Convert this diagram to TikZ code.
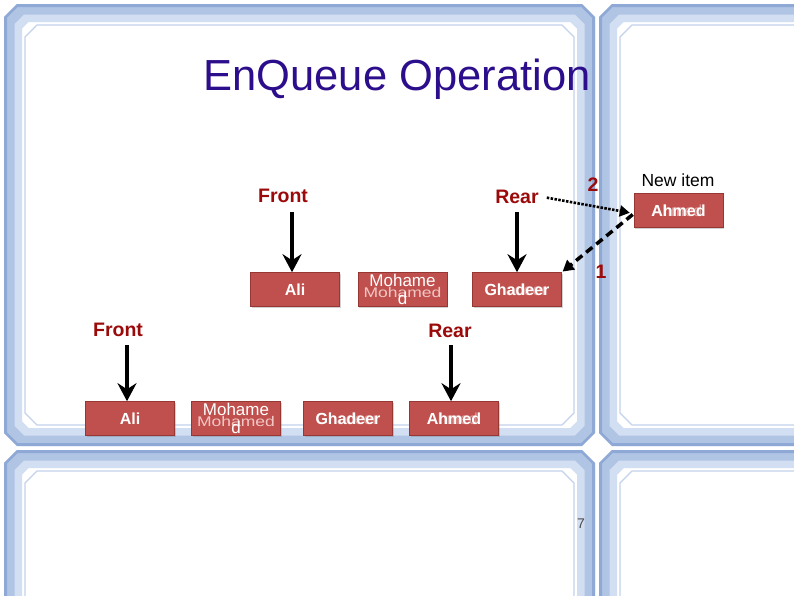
\documentclass[tikz,border=0pt]{standalone}
\usepackage{fontspec}
\setmainfont{Liberation Sans}
\usetikzlibrary{arrows.meta,calc,shadows}
\definecolor{titleblue}{RGB}{44,14,140}
\definecolor{lblred}{RGB}{155,10,10}
\definecolor{boxred}{RGB}{192,80,77}
\definecolor{boxedge}{RGB}{150,55,52}
\definecolor{ghostpink}{RGB}{242,200,198}
\definecolor{bandlight}{RGB}{210,222,241}
\definecolor{bandmid}{RGB}{176,196,228}
\definecolor{banddark}{RGB}{143,169,214}
\definecolor{bandline}{RGB}{196,210,235}

% one chamfered outline of a pane: x1,y1,x2,y2,inset,style
\newcommand\drawpaneline[6]{%
  \draw[#6] ({#1+#5+12},{#2+#5}) -- ({#3-#5-12},{#2+#5}) -- ({#3-#5},{#2+#5+12})
    -- ({#3-#5},{#4-#5-12}) -- ({#3-#5-12},{#4-#5}) -- ({#1+#5+12},{#4-#5})
    -- ({#1+#5},{#4-#5-12}) -- ({#1+#5},{#2+#5+12}) -- cycle;}
\newcommand\framepane[4]{%
  \drawpaneline{#1}{#2}{#3}{#4}{10}{draw=bandlight,line width=18pt}
  \drawpaneline{#1}{#2}{#3}{#4}{7}{draw=bandmid,line width=9pt}
  \drawpaneline{#1}{#2}{#3}{#4}{2.5}{draw=banddark,line width=3pt}
  \drawpaneline{#1}{#2}{#3}{#4}{22}{draw=bandline,line width=1.2pt}}

\tikzset{
  qbox/.style={rectangle, fill=boxred, draw=boxedge, line width=0.6pt,
    minimum width=89pt, minimum height=34pt, inner sep=0pt,
    drop shadow={shadow xshift=1.2pt, shadow yshift=-1.8pt, opacity=0.35},
    text=white, font=\fontsize{16}{17}\selectfont\bfseries},
  boxtxt/.style={text=white, inner sep=0pt, font=\fontsize{17}{18}\selectfont, align=center},
  boldtxt/.style={text=white, inner sep=0pt, font=\fontsize{16}{17}\selectfont\bfseries},
  ghost/.style={text=ghostpink, inner sep=0pt, opacity=0.6, font=\fontsize{16}{17}\selectfont},
  lbl/.style={text=lblred, font=\fontsize{19.5}{20}\selectfont\bfseries, inner sep=1pt, anchor=base},
  bigarrow/.style={line width=4pt, -{Stealth[length=18pt,width=19pt,inset=6pt]}},
  dotarrow/.style={line width=2.6pt, dash pattern=on 2.5pt off 1.4pt,
    -{Triangle[length=10pt,width=11pt]}},
  dasharrow/.style={line width=3.5pt, dash pattern=on 8pt off 5pt,
    -{Triangle[length=11pt,width=12pt]}},
}

\begin{document}
\begin{tikzpicture}[x=1pt,y=-1pt]
\useasboundingbox (0,0) rectangle (794,595);
\clip (0,0) rectangle (794,595);
\fill[white] (0,0) rectangle (794,595);

% window panes
\framepane{3}{3}{596}{447}
\framepane{598}{3}{830}{447}
\framepane{3}{449}{596}{630}
\framepane{598}{449}{830}{630}

% title
\node[anchor=base, text=titleblue, font=\fontsize{43.5}{45}\selectfont, inner sep=0pt] (title) at (397,90) {EnQueue Operation};

% ---------- upper queue ----------
\node[lbl] (f1) at (283,202) {Front};
\node[lbl] (r1) at (517,203) {Rear};
\node[qbox] (ali1) at (295,289.5) {Ali};
\node[qbox] (moh1) at (402.5,289.5) {};
\node[ghost, opacity=1, font=\fontsize{14}{15}\selectfont, xscale=1.25] (moh1g) at ([yshift=-3pt]moh1.center) {Mohamed};
\node[boxtxt] (moh1t) at (moh1.center) {Mohame\\d};
\node[qbox] (gh1) at (517,289.5) {};
\node[ghost] (gh1g) at ([xshift=-1.3pt]gh1.center) {Ghadeer};
\node[boldtxt] (gh1t) at (gh1.center) {Ghadeer};

\node[anchor=base, font=\fontsize{17.5}{18}\selectfont, inner sep=0pt] (newlbl) at (678,186) {New item};
\node[qbox] (new) at (678.5,210.5) {};
\node[ghost] (newg) at ([xshift=-1.5pt]new.center) {Ahmed};
\node[boldtxt] (newt) at (new.center) {Ahmed};

\node[lbl] (two) at (593,191) {2};
\node[lbl] (one) at (601,278) {1};

\draw[bigarrow, shorten <=9pt] ([xshift=-3pt]ali1.north |- f1.south) -- ([xshift=-3pt]ali1.north);
\draw[bigarrow, shorten <=8pt] (gh1.north |- r1.south) -- (gh1.north);
\draw[dotarrow, shorten <=7pt, shorten >=4pt] (r1.east) -- ([yshift=-3pt]new.west);
\draw[dasharrow, shorten >=1pt] ([yshift=-4pt,xshift=-1pt]new.west) -- (gh1.north east);

% ---------- lower queue ----------
\node[lbl] (f2) at (118,336) {Front};
\node[lbl] (r2) at (450,337) {Rear};
\node[qbox] (ali2) at (130,418.5) {Ali};
\node[qbox] (moh2) at (236,418.5) {};
\node[ghost, opacity=1, font=\fontsize{14}{15}\selectfont, xscale=1.25] (moh2g) at ([yshift=-3pt]moh2.center) {Mohamed};
\node[boxtxt] (moh2t) at (moh2.center) {Mohame\\d};
\node[qbox] (gh2) at (348,418.5) {};
\node[ghost] (gh2g) at ([xshift=-1.3pt]gh2.center) {Ghadeer};
\node[boldtxt] (gh2t) at (gh2.center) {Ghadeer};
\node[qbox] (ah2) at (454,418.5) {};
\node[ghost] (ah2g) at ([xshift=-1.5pt]ah2.center) {Ahmed};
\node[boldtxt] (ah2t) at (ah2.center) {Ahmed};

\draw[bigarrow, shorten <=8pt] ([xshift=-3pt]ali2.north |- f2.south) -- ([xshift=-3pt]ali2.north);
\draw[bigarrow, shorten <=7pt] ([xshift=-3pt]ah2.north |- r2.south) -- ([xshift=-3pt]ah2.north);

% page number
\node[text=black!70, font=\fontsize{14}{14}\selectfont, inner sep=0pt] (pg) at (581,524) {7};
\end{tikzpicture}
\end{document}
